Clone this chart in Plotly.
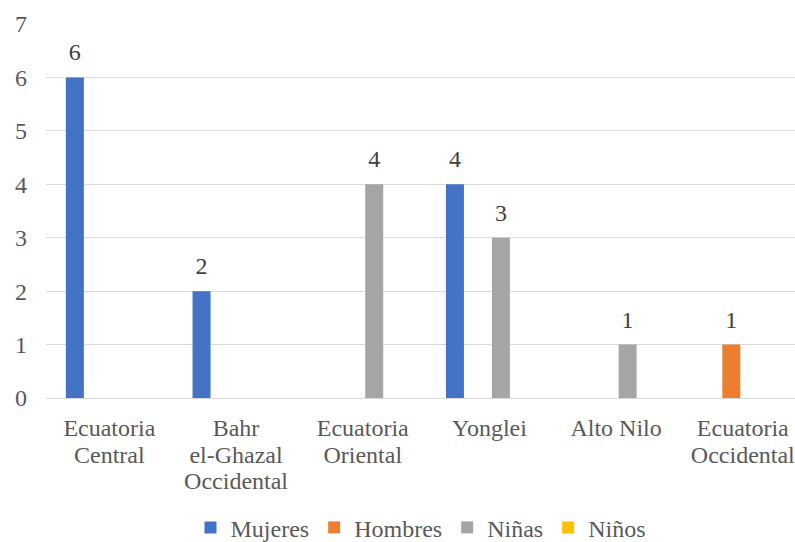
import plotly.graph_objects as go

categories = ["Ecuatoria<br>Central", "Bahr<br>el-Ghazal<br>Occidental", "Ecuatoria<br>Oriental",
              "Yonglei", "Alto Nilo", "Ecuatoria<br>Occidental"]
mujeres = [6, 2, 0, 4, 0, 0]
hombres = [0, 0, 0, 0, 0, 1]
ninas = [0, 0, 4, 3, 1, 0]
ninos = [0, 0, 0, 0, 0, 0]
series_names = ["Mujeres", "Hombres", "Niñas", "Niños"]
series_colors = ["#4472C4", "#ED7D31", "#A5A5A5", "#FFC000"]
y_ticks = [0, 1, 2, 3, 4, 5, 6, 7]

FONT = "Liberation Serif"
TXT = "#595959"
GAP = 0.274
FS = 24


def big(label):
    return "<br>".join(f'<span style="font-size:{FS}px">{p}</span>' for p in label.split("<br>"))


xs = list(range(len(categories)))
fig = go.Figure()
for i, (name, vals, col) in enumerate(zip(series_names, [mujeres, hombres, ninas, ninos], series_colors)):
    fig.add_trace(go.Bar(
        x=xs, y=vals, name=name, offsetgroup=str(i),
        marker=dict(color=col, line=dict(width=0)),
        hoverinfo="y",
    ))
for i, (name, vals) in enumerate(zip(series_names, [mujeres, hombres, ninas, ninos])):
    fig.add_trace(go.Scatter(
        x=xs, y=[v if v else None for v in vals], offsetgroup=str(i),
        mode="markers+text", text=[str(v) if v else "" for v in vals],
        textposition="top center", marker=dict(size=16, opacity=0),
        textfont=dict(family=FONT, size=FS, color="#404040"),
        showlegend=False, hoverinfo="skip", cliponaxis=False,
    ))

fig.update_layout(
    width=795, height=542,
    margin=dict(l=46, r=0, t=24, b=144, autoexpand=False),
    paper_bgcolor="white", plot_bgcolor="white",
    barmode="group", bargap=GAP, bargroupgap=0.217,
    scattermode="group", scattergap=GAP,
    font=dict(family=FONT, size=FS, color=TXT),
    showlegend=True,
    legend=dict(orientation="h", x=0.5, xanchor="center", y=-0.347, yanchor="middle",
                font=dict(family=FONT, size=FS, color=TXT), itemwidth=30,
                traceorder="normal"),
    xaxis=dict(
        tickmode="array", tickvals=xs, ticktext=[big(c) for c in categories],
        range=[-0.5, 5.412], showgrid=False, showline=False, zeroline=False,
        ticks="", ticklabelstandoff=17, automargin=False, ticklabeloverflow="allow",
        tickfont=dict(family=FONT, size=20.4, color=TXT),
    ),
    yaxis=dict(
        range=[0, 7], tickmode="array", tickvals=y_ticks,
        showgrid=True, gridcolor="#D9D9D9", gridwidth=1.3,
        zeroline=True, zerolinecolor="#D9D9D9", zerolinewidth=1.3,
        showline=False, ticks="", ticklabelstandoff=18, automargin=False,
        tickfont=dict(family=FONT, size=FS, color=TXT),
    ),
)

fig.write_html("out.html", config={"displayModeBar": False},
               post_script="document.body.style.margin='0';document.body.style.overflow='hidden';")
